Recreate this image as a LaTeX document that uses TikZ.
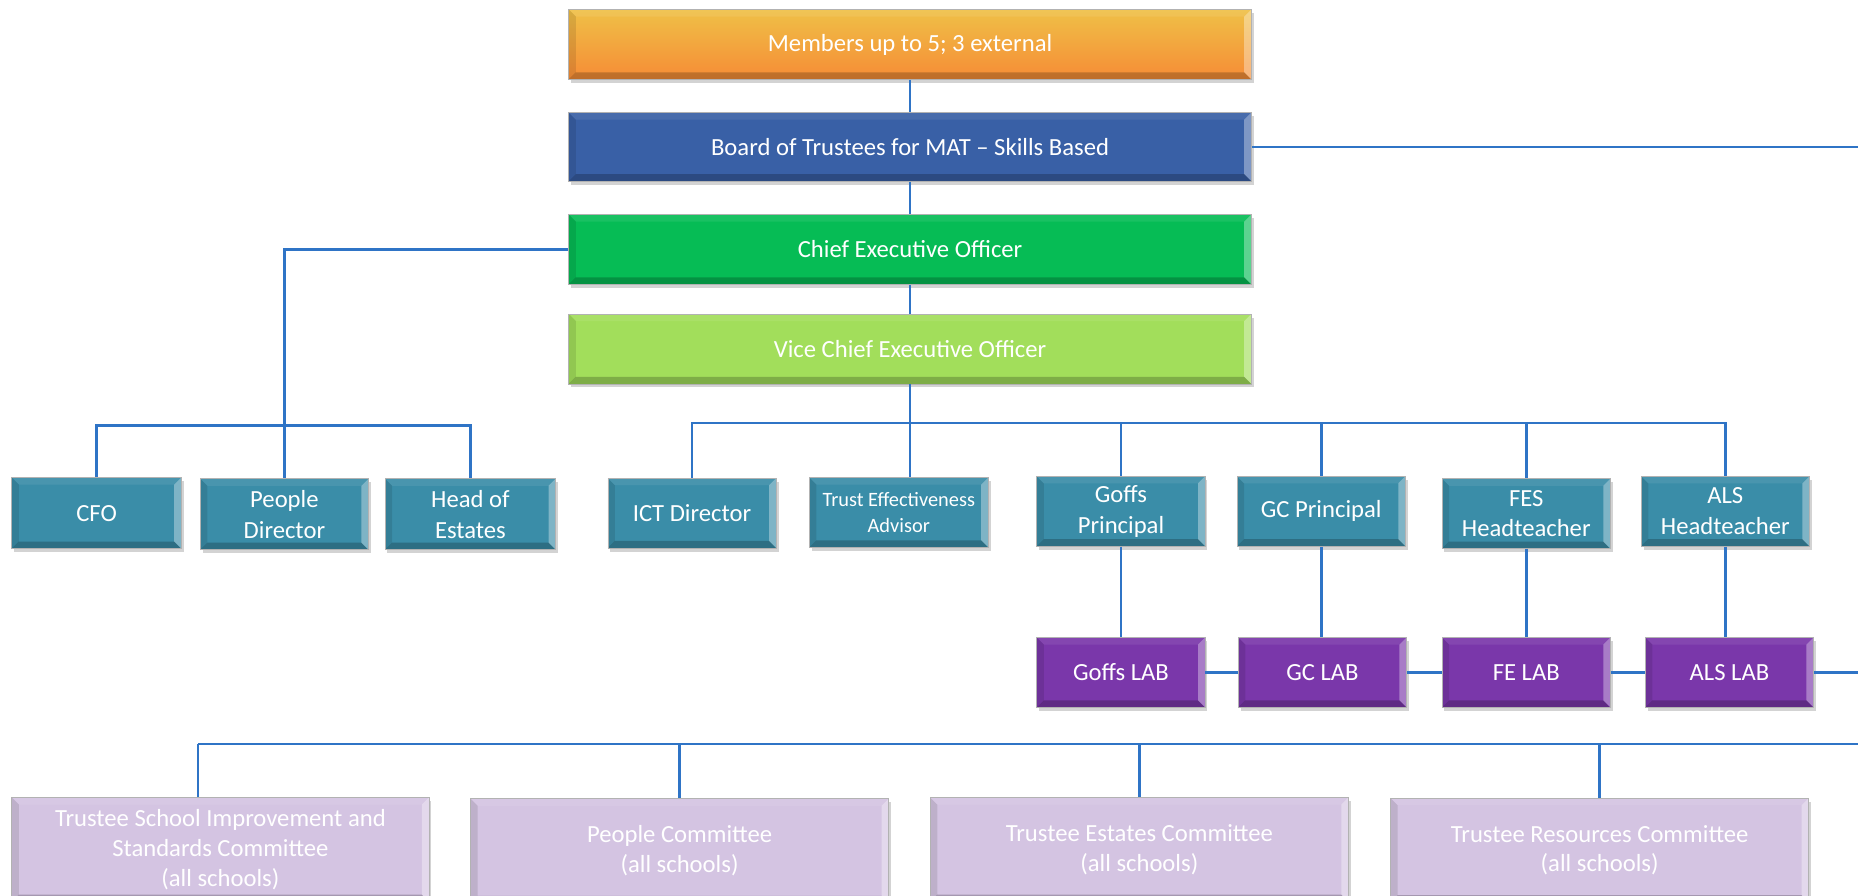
\documentclass[tikz,border=0pt]{standalone}
\usepackage{fontspec}
\setmainfont{Carlito}
\usetikzlibrary{shadows}
\definecolor{ln}{HTML}{2F74C6}
\definecolor{boardc}{HTML}{3960A6}
\definecolor{ceoc}{HTML}{06BC55}
\definecolor{vceoc}{HTML}{A2DE5B}
\definecolor{tealc}{HTML}{3A8DA8}
\definecolor{purc}{HTML}{7A37AA}
\definecolor{lilc}{HTML}{D4C4E2}
\definecolor{memtop}{HTML}{EFC047}
\definecolor{membot}{HTML}{F68C36}
\begin{document}
\begin{tikzpicture}[x=0.5pt,y=-0.5pt,
  wh/.style 2 args={minimum width={#1*0.5pt}, minimum height={#2*0.5pt}},
  bev/.style={path picture={
     \fill[white,opacity=.35] (path picture bounding box.north east) -- ([xshift=-3pt,yshift=-3pt]path picture bounding box.north east) -- ([xshift=-3pt,yshift=3pt]path picture bounding box.south east) -- (path picture bounding box.south east) -- cycle;
     \fill[black,opacity=.22] (path picture bounding box.south east) -- ([xshift=-3pt,yshift=3pt]path picture bounding box.south east) -- ([xshift=3pt,yshift=3pt]path picture bounding box.south west) -- (path picture bounding box.south west) -- cycle;
     \fill[black,opacity=.10] (path picture bounding box.south west) -- ([xshift=3pt,yshift=3pt]path picture bounding box.south west) -- ([xshift=3pt,yshift=-3pt]path picture bounding box.north west) -- (path picture bounding box.north west) -- cycle;
     \fill[white,opacity=.08] (path picture bounding box.north west) -- ([xshift=3pt,yshift=-3pt]path picture bounding box.north west) -- ([xshift=-3pt,yshift=-3pt]path picture bounding box.north east) -- (path picture bounding box.north east) -- cycle;
  }},
  box/.style={rectangle, inner sep=0pt, align=center, text=white,
     font=\fontsize{10.4}{13}\selectfont, bev, draw=black!30, line width=0.3pt,
     drop shadow={opacity=.35, shadow xshift=1pt, shadow yshift=-1.5pt}},
  teal/.style={box, fill=tealc, wh={142}{59}},
  lab/.style={box, fill=purc, wh={142}{59}},
  comm/.style={box, fill=lilc, wh={352}{88}, font=\fontsize{10.4}{12.5}\selectfont},
  conn/.style={draw=ln, line width=1.1pt}
]
\useasboundingbox (0,0) rectangle (1568,756);
\clip (0,0) rectangle (1568,756);

% top chain
\node[box, top color=memtop, bottom color=membot, wh={576}{59}] (mem) at (768,37.5) {Members up to 5; 3 external};
\node[box, fill=boardc, wh={576}{58}] (board) at (768,124) {Board of Trustees for MAT – Skills Based};
\node[box, fill=ceoc, wh={576}{59}] (ceo) at (768,210.5) {Chief Executive Officer};
\node[box, fill=vceoc, wh={576}{59}] (vceo) at (768,294.5) {Vice Chief Executive Officer};

% left group
\node[teal, wh={143}{60}] (cfo) at (81.5,433) {CFO};
\node[teal, wh={142}{60}] (pd) at (240,434) {People\\Director};
\node[teal, wh={144}{60}] (hoe) at (397,434) {Head of\\Estates};

% right group
\node[teal] (ict) at (584,433) {ICT Director};
\node[teal, wh={151}{59}, font=\fontsize{8.6}{10.8}\selectfont] (tea) at (758.5,432.5) {Trust Effectiveness\\Advisor};
\node[teal] (goffs) at (946,431.5) {Goffs\\Principal};
\node[teal] (gc) at (1115,431.5) {GC Principal};
\node[teal] (fes) at (1288,433.5) {FES\\Headteacher};
\node[teal] (als) at (1456,431.5) {ALS\\Headteacher};

% LABs
\node[lab] (glab) at (946,567.5) {Goffs LAB};
\node[lab] (gclab) at (1116,567.5) {GC LAB};
\node[lab] (felab) at (1288,567.5) {FE LAB};
\node[lab] (alslab) at (1459.5,567.5) {ALS LAB};

% committees
\node[comm] (c1) at (186,717) {Trustee School Improvement and\\Standards Committee\\(all schools)};
\node[comm, wh={353}{88}] (c2) at (573.5,718) {People Committee\\(all schools)};
\node[comm, wh={353}{88}] (c3) at (961.5,717) {Trustee Estates Committee\\(all schools)};
\node[comm, wh={353}{88}] (c4) at (1350,717.5) {Trustee Resources Committee\\(all schools)};

% coordinates
\coordinate (bR) at (1568,124);
\coordinate (lb) at (0,359);
\coordinate (rb) at (0,357);
\coordinate (labR) at (1568,567.5);
\coordinate (cb) at (0,628);
\coordinate (cbR) at (1568,628);
\coordinate (c1d) at (167,628);

% connectors
\draw[conn] (mem.south) -- (board.north);
\draw[conn] (board.east) -- (bR);
\draw[conn] (board.south) -- (ceo.north);
\draw[conn] (ceo.south) -- (vceo.north);
\draw[conn] (ceo.west) -| (pd.north);
\draw[conn] (cfo.north) -- (cfo.north|-lb) -- (hoe.north|-lb) -- (hoe.north);
\draw[conn] (vceo.south) -- (vceo.south|-tea.north);
\draw[conn] (ict.north) -- (ict.north|-rb) -- (als.north|-rb) -- (als.north);
\draw[conn] (goffs.north|-rb) -- (goffs.north);
\draw[conn] (gc.north|-rb) -- (gc.north);
\draw[conn] (fes.north|-rb) -- (fes.north);
\draw[conn] (goffs.south) -- (goffs.south|-glab.north);
\draw[conn] (gc.south) -- (gc.south|-gclab.north);
\draw[conn] (fes.south) -- (fes.south|-felab.north);
\draw[conn] (als.south) -- (als.south|-alslab.north);
\draw[conn] (glab.east) -- (gclab.west);
\draw[conn] (gclab.east) -- (felab.west);
\draw[conn] (felab.east) -- (alslab.west);
\draw[conn] (alslab.east) -- (labR);
\draw[conn] (c1d) -- (cbR);
\draw[conn] (c1d) -- (c1d|-c1.north);
\draw[conn] (c2.north|-cb) -- (c2.north);
\draw[conn] (c3.north|-cb) -- (c3.north);
\draw[conn] (c4.north|-cb) -- (c4.north);
\end{tikzpicture}
\end{document}
